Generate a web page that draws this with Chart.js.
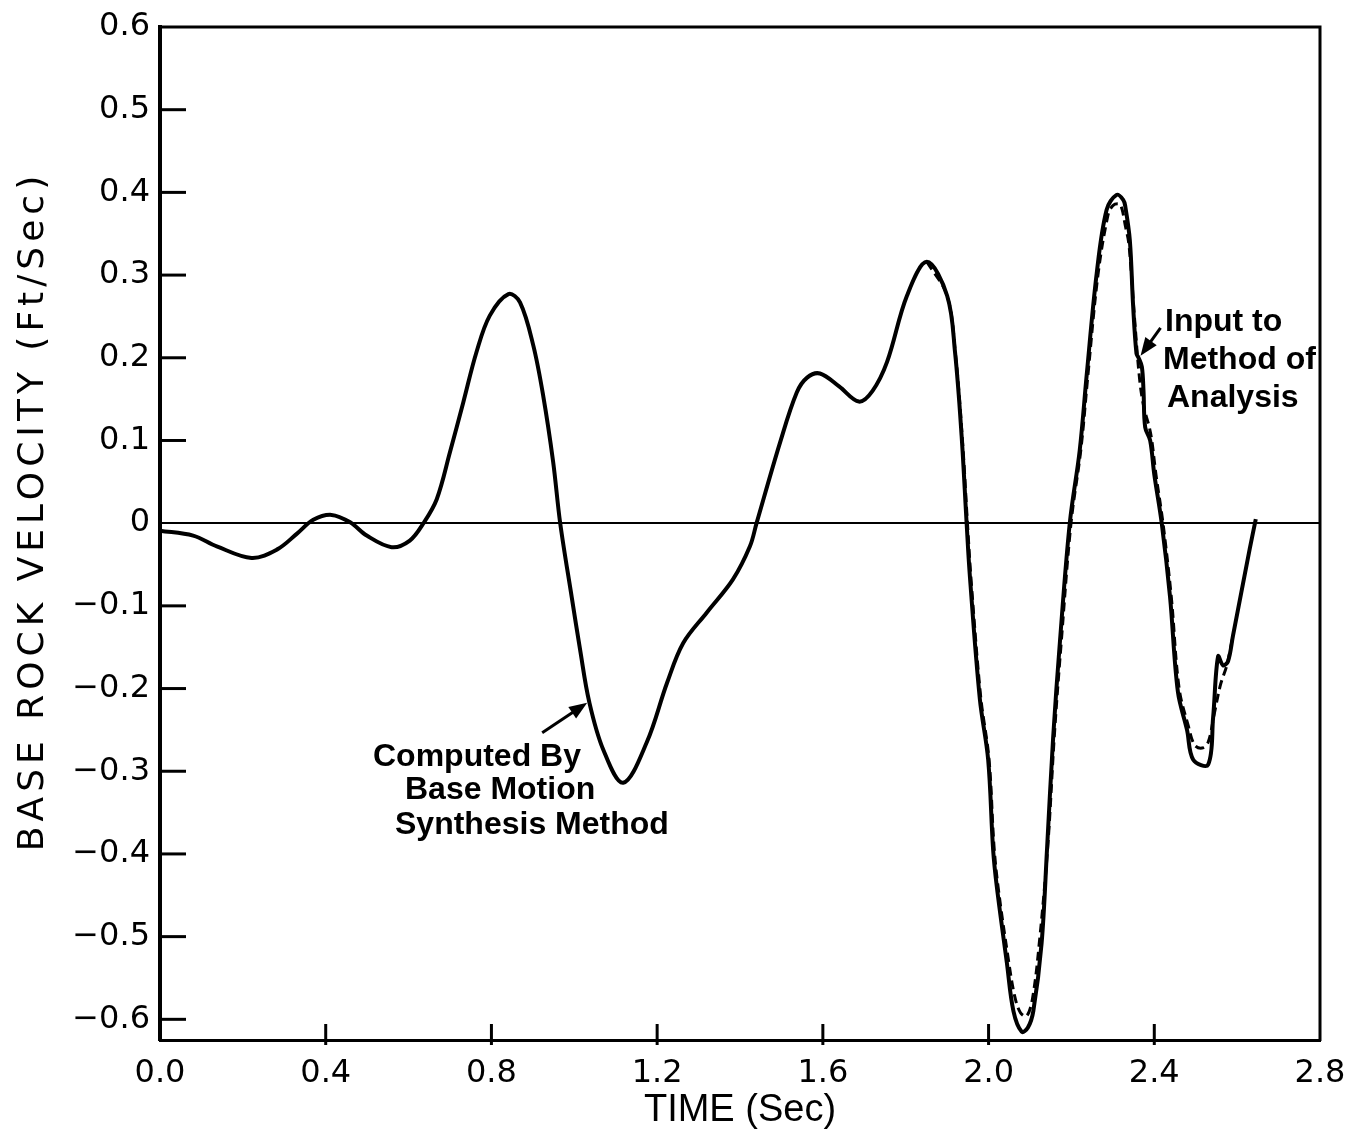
<!DOCTYPE html>
<html>
<head>
<meta charset="utf-8">
<title>Base Rock Velocity</title>
<script src="https://cdn.jsdelivr.net/npm/chart.js@4.4.0/dist/chart.umd.min.js"></script>
<style>
  html, body { margin: 0; padding: 0; background: #fff; }
  #chart { display: block; }
</style>
</head>
<body>
<canvas id="chart" width="1351" height="1137"></canvas>
<script>
// Base rock velocity record (ft/sec) against time (sec)

// computed by base motion synthesis method (solid)
const solidTime = [
	0.0, 0.08, 0.137, 0.221, 0.282, 0.33, 0.37, 0.414, 0.459, 0.499,
	0.559, 0.603, 0.636, 0.668, 0.7, 0.732, 0.764, 0.796, 0.841, 0.869,
	0.901, 0.925, 0.949, 0.966, 0.994, 1.014, 1.036, 1.07, 1.118, 1.175,
	1.224, 1.263, 1.32, 1.383, 1.424, 1.44, 1.497, 1.537, 1.562, 1.593, 1.64,
	1.687, 1.72, 1.755, 1.803, 1.851, 1.9, 1.919, 1.935, 1.947, 1.955,
	1.979, 1.999, 2.011, 2.02, 2.044, 2.06, 2.08, 2.095, 2.108, 2.128,
	2.141, 2.156, 2.172, 2.196, 2.22, 2.237, 2.261, 2.285, 2.309, 2.325,
	2.33, 2.341, 2.349, 2.357, 2.362, 2.37, 2.374, 2.378, 2.39, 2.4,
	2.418, 2.438, 2.457, 2.479, 2.494, 2.53, 2.542, 2.554, 2.566, 2.578,
	2.59, 2.63, 2.645,
];
const solidVel = [
	-0.009, -0.015, -0.028, -0.042, -0.032, -0.013, 0.004, 0.01, 0.001, -0.015,
	-0.029, -0.021, 0.0, 0.029, 0.086, 0.146, 0.207, 0.251, 0.277, 0.267,
	0.215, 0.154, 0.074, 0.0, -0.09, -0.153, -0.216, -0.274, -0.314, -0.265,
	-0.193, -0.145, -0.108, -0.068, -0.028, 0.0, 0.098, 0.158, 0.176, 0.181, 0.165,
	0.147, 0.16, 0.195, 0.275, 0.316, 0.275, 0.207, 0.105, 0.0, -0.065,
	-0.213, -0.286, -0.395, -0.44, -0.531, -0.59, -0.615, -0.61, -0.59, -0.508,
	-0.395, -0.258, -0.145, 0.0, 0.088, 0.18, 0.302, 0.379, 0.397, 0.391,
	0.383, 0.342, 0.262, 0.205, 0.2, 0.189, 0.16, 0.116, 0.1, 0.059,
	0.0, -0.089, -0.204, -0.25, -0.286, -0.292, -0.235, -0.161, -0.172, -0.167,
	-0.136, -0.032, 0.005,
];

// input to method of analysis (dashed), only where it leaves the solid trace
const dashedTime = [
	1.851, 1.9, 1.92, 1.937, 1.949, 1.958, 1.981, 2.001, 2.013, 2.023, 2.047,
	2.063, 2.077, 2.092, 2.106, 2.123, 2.143, 2.159, 2.176, 2.199, 2.223,
	2.24, 2.264, 2.288, 2.3, 2.315, 2.322, 2.33, 2.338, 2.345, 2.352,
	2.365, 2.375, 2.388, 2.394, 2.404, 2.421, 2.441, 2.46, 2.482, 2.497,
	2.515, 2.53, 2.545, 2.56, 2.575, 2.59,
];
const dashedVel = [
	0.316, 0.275, 0.205, 0.1, 0.0, -0.07, -0.21, -0.285, -0.39, -0.44, -0.525,
	-0.572, -0.592, -0.596, -0.575, -0.505, -0.39, -0.255, -0.14, 0.0, 0.09,
	0.18, 0.3, 0.372, 0.384, 0.386, 0.38, 0.36, 0.34, 0.3, 0.25,
	0.172, 0.14, 0.116, 0.1, 0.059, 0.0, -0.089, -0.2, -0.245, -0.268,
	-0.272, -0.265, -0.23, -0.195, -0.172, -0.136,
];

const xTickValues = [0.0, 0.4, 0.8, 1.2, 1.6, 2.0, 2.4, 2.8];
const xTickLabels = ["0.0", "0.4", "0.8", "1.2", "1.6", "2.0", "2.4", "2.8"];
const yTickValues = [-0.6, -0.5, -0.4, -0.3, -0.2, -0.1, 0, 0.1, 0.2, 0.3, 0.4, 0.5, 0.6];
const yTickLabels = ["\u22120.6", "\u22120.5", "\u22120.4", "\u22120.3", "\u22120.2", "\u22120.1", "0", "0.1", "0.2", "0.3", "0.4", "0.5", "0.6"];

const toPoints = (xs, ys) => xs.map((x, i) => ({ x: x, y: ys[i] }));

const tickFont = { family: "'DejaVu Sans', sans-serif", size: 32 };

// frame, inward ticks, y title and the two labelled arrows
const plotDecor = {
	id: "plotDecor",
	afterDraw(chart) {
		const { ctx, chartArea: a, scales } = chart;
		const x = scales.x;
		const y = scales.y;
		ctx.save();
		ctx.strokeStyle = "#000";
		ctx.fillStyle = "#000";
		ctx.lineCap = "butt";

		// top and right edges of the frame
		ctx.lineWidth = 3;
		ctx.beginPath();
		ctx.moveTo(a.left, a.top);
		ctx.lineTo(a.right, a.top);
		ctx.lineTo(a.right, a.bottom + 1);
		ctx.stroke();

		// tick marks pointing into the plot
		ctx.lineWidth = 3;
		yTickValues.forEach((v) => {
			if (v === 0 || v === 0.6) return;
			const py = y.getPixelForValue(v);
			ctx.beginPath();
			ctx.moveTo(a.left, py);
			ctx.lineTo(a.left + 26, py);
			ctx.stroke();
		});
		xTickValues.slice(1, -1).forEach((v) => {
			const px = x.getPixelForValue(v);
			ctx.beginPath();
			ctx.moveTo(px, a.bottom - 16);
			ctx.lineTo(px, a.bottom + 5);
			ctx.stroke();
		});

		// y axis title
		ctx.save();
		ctx.translate(34, 511);
		ctx.rotate(-Math.PI / 2);
		ctx.font = "36px 'DejaVu Sans', sans-serif";
		ctx.letterSpacing = "5px";
		ctx.textAlign = "center";
		ctx.textBaseline = "middle";
		ctx.fillText("BASE ROCK VELOCITY (Ft/Sec)", 0, 0);
		ctx.restore();

		// annotation text
		ctx.font = "bold 32px 'Liberation Sans', sans-serif";
		ctx.textAlign = "left";
		ctx.textBaseline = "middle";
		[
			["Computed By", 373, 757],
			["Base Motion", 405, 790],
			["Synthesis Method", 395, 825],
			["Input to", 1165, 322],
			["Method of", 1163, 360],
			["Analysis", 1167, 398],
		].forEach(([t, tx, ty]) => ctx.fillText(t, tx, ty));

		const arrow = (hx, hy, tx, ty) => {
			const ang = Math.atan2(hy - ty, hx - tx);
			ctx.lineWidth = 3;
			ctx.beginPath();
			ctx.moveTo(tx, ty);
			ctx.lineTo(hx - 10 * Math.cos(ang), hy - 10 * Math.sin(ang));
			ctx.stroke();
			ctx.beginPath();
			ctx.moveTo(hx, hy);
			ctx.lineTo(hx - 18 * Math.cos(ang) + 7 * Math.sin(ang), hy - 18 * Math.sin(ang) - 7 * Math.cos(ang));
			ctx.lineTo(hx - 18 * Math.cos(ang) - 7 * Math.sin(ang), hy - 18 * Math.sin(ang) + 7 * Math.cos(ang));
			ctx.closePath();
			ctx.fill();
		};
		// arrows point at the traces
		const c = { x: x.getPixelForValue(1.036), y: y.getPixelForValue(-0.216) };
		arrow(c.x - 2, c.y + 1, c.x - 47, c.y + 31);
		const p = { x: x.getPixelForValue(2.362), y: y.getPixelForValue(0.2) };
		arrow(p.x + 2, p.y - 2, p.x + 22, p.y - 30);

		ctx.restore();
	},
};

const chart = new Chart(document.getElementById("chart"), {
	type: "line",
	data: {
		datasets: [
			{
				label: "Computed By Base Motion Synthesis Method",
				data: toPoints(solidTime, solidVel),
				borderColor: "#000",
				borderWidth: 4,
				pointRadius: 0,
				tension: 0.35,
				fill: false,
			},
			{
				label: "Input to Method of Analysis",
				data: toPoints(dashedTime, dashedVel),
				borderColor: "#000",
				borderWidth: 3,
				borderDash: [9, 5],
				pointRadius: 0,
				tension: 0.35,
				fill: false,
			},
		],
	},
	options: {
		responsive: false,
		animation: false,
		layout: {
			padding: { top: 27, right: 31, left: 0, bottom: 0 },
		},
		plugins: {
			legend: { display: false },
			tooltip: { enabled: false },
		},
		scales: {
			x: {
				type: "linear",
				min: 0,
				max: 2.8,
				afterBuildTicks: (axis) => {
					axis.ticks = xTickValues.map((v) => ({ value: v }));
				},
				afterFit: (axis) => {
					axis.height = 97;
					axis.paddingLeft = 0;
					axis.paddingRight = 0;
				},
				ticks: {
					autoSkip: false,
					maxRotation: 0,
					padding: 14,
					color: "#000",
					font: tickFont,
					callback: (value, index) => xTickLabels[index],
				},
				grid: { drawOnChartArea: false, drawTicks: false },
				border: { display: true, color: "#000", width: 3 },
				title: {
					display: true,
					text: "TIME (Sec)",
					color: "#000",
					font: { family: "'Liberation Sans', sans-serif", size: 38 },
					padding: { top: 0, bottom: 4 },
				},
			},
			y: {
				type: "linear",
				min: -0.625,
				max: 0.6,
				afterBuildTicks: (axis) => {
					axis.ticks = yTickValues.map((v) => ({ value: v }));
				},
				afterFit: (axis) => {
					axis.width = 160;
					axis.paddingTop = 0;
					axis.paddingBottom = 0;
				},
				ticks: {
					autoSkip: false,
					padding: 10,
					color: "#000",
					font: tickFont,
					callback: (value, index) => yTickLabels[index],
				},
				grid: {
					drawTicks: false,
					lineWidth: 2,
					color: (ctx) => (ctx.tick && ctx.tick.value === 0 ? "#000" : "rgba(0,0,0,0)"),
				},
				border: { display: true, color: "#000", width: 4 },
			},
		},
	},
	plugins: [plotDecor],
});
</script>
</body>
</html>
